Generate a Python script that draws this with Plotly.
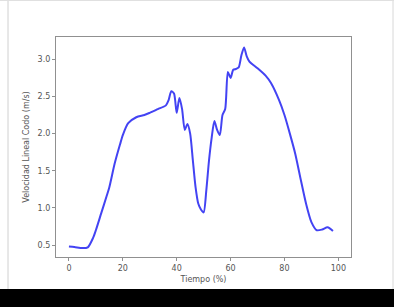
import plotly.graph_objects as go

tiempo = [0, 2, 5, 7, 9, 10, 12, 14, 15, 17, 19, 20, 22, 25, 28, 30, 33, 36, 37, 38, 39, 40, 41, 42, 43, 44, 45,
          46, 47, 48, 49, 50, 51, 52, 53, 54, 55, 56, 57, 58, 59, 60, 61, 62, 63, 64, 65, 66, 67,
          70, 73, 75, 78, 80, 82, 84, 86, 88, 90, 92, 94, 96, 98]
velocidad = [0.48, 0.475, 0.46, 0.47, 0.60, 0.70, 0.93, 1.16, 1.28, 1.60, 1.86, 1.98, 2.14, 2.22, 2.25, 2.28, 2.33, 2.38,
             2.45, 2.57, 2.54, 2.28, 2.48, 2.33, 2.05, 2.13, 2.0,
             1.64, 1.28, 1.06, 0.98, 0.94, 1.24, 1.64, 1.95, 2.17, 2.05, 1.98, 2.25, 2.33, 2.83, 2.75,
             2.86, 2.87, 2.89, 3.05, 3.16, 3.04, 2.97,
             2.88, 2.78, 2.68, 2.45, 2.25, 2.0, 1.73, 1.39, 1.06, 0.81, 0.70, 0.71, 0.74, 0.69]
x_ticks = [0, 20, 40, 60, 80, 100]
y_ticks = [0.5, 1.0, 1.5, 2.0, 2.5, 3.0]

L, R, T, B = 56, 351, 37, 257
W, H = 394, 307
pw, ph = R - L, B - T

def px(p):
    return (p - L) / pw

def py(q):
    return (B - q) / ph

fig = go.Figure()
fig.add_trace(go.Scatter(x=tiempo, y=velocidad, mode="lines",
                         line=dict(color="rgba(20,20,240,0.8)", width=2, shape="spline", smoothing=0.7),
                         showlegend=False))

axis_common = dict(showgrid=False, zeroline=False, showline=True, linecolor="#909090", linewidth=1.2,
                   mirror=True, ticks="outside", ticklen=3, tickcolor="#909090",
                   tickfont=dict(family="DejaVu Sans", size=8, color="#555"))

fig.update_layout(
    width=W, height=H, margin=dict(l=L, r=W - R, t=T, b=H - B),
    paper_bgcolor="white", plot_bgcolor="white",
    xaxis=dict(range=[-4.8, 104.7], tickvals=x_ticks, ticktext=[str(v) for v in x_ticks],
               title=dict(text="Tiempo (%)", font=dict(family="DejaVu Sans", size=8, color="#555"), standoff=4),
               **axis_common),
    yaxis=dict(range=[0.34, 3.30], tickvals=y_ticks, ticktext=[f"{v:.1f}" for v in y_ticks],
               title=dict(text="Velocidad Lineal Codo (m/s)", font=dict(family="DejaVu Sans", size=8, color="#555"), standoff=6),
               **axis_common),
    shapes=[
        dict(type="rect", xref="paper", yref="paper", x0=px(-5), x1=px(W + 5), y0=py(289), y1=py(W),
             fillcolor="black", line=dict(width=0), layer="above"),
        dict(type="line", xref="paper", yref="paper", x0=px(8), x1=px(8), y0=py(0), y1=py(289),
             line=dict(color="#d0d0d0", width=1)),
        dict(type="line", xref="paper", yref="paper", x0=px(393), x1=px(393), y0=py(0), y1=py(289),
             line=dict(color="#d8d8d8", width=1)),
        dict(type="line", xref="paper", yref="paper", x0=px(0), x1=px(W), y0=py(0.5), y1=py(0.5),
             line=dict(color="#e0e0e0", width=1)),
    ],
)

fig.write_html("out.html")
